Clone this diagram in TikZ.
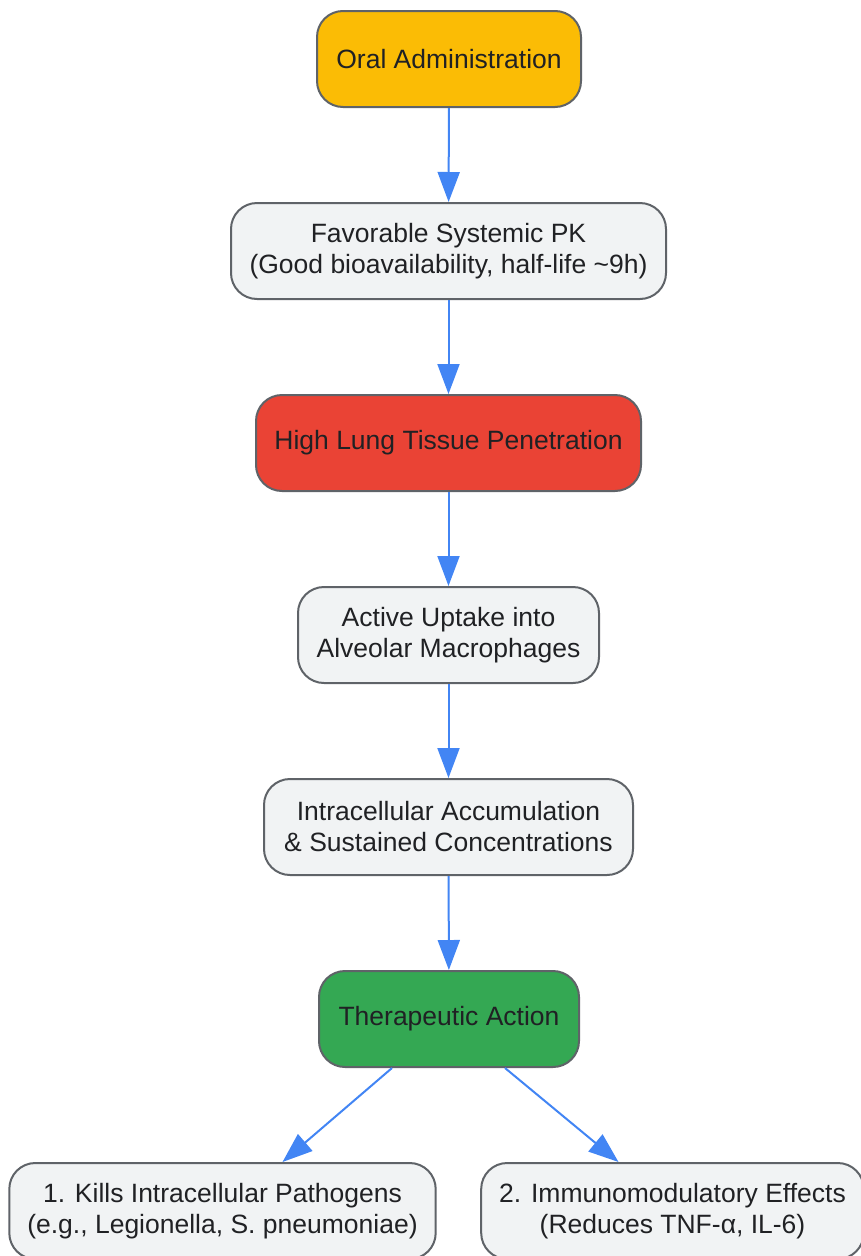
\documentclass[tikz,border=0pt]{standalone}
\usepackage{fontspec}
\setmainfont{Liberation Sans}
\usepackage{xcolor}
\usetikzlibrary{arrows.meta}
\definecolor{boxgray}{HTML}{F1F3F4}
\definecolor{boxline}{HTML}{5F6368}
\definecolor{oralyellow}{HTML}{FBBC05}
\definecolor{lungred}{HTML}{EA4335}
\definecolor{actgreen}{HTML}{34A853}
\definecolor{flowblue}{HTML}{4285F4}
\definecolor{inktext}{HTML}{202124}

\begin{document}
\begin{tikzpicture}
  [x=1pt,y=-1pt,
   every node/.style={rectangle,rounded corners=26pt,draw=boxline,line width=2pt,
     fill=boxgray,text=inktext,align=center,minimum height=96pt,inner xsep=18pt,
     font=\fontsize{26.5}{31}\selectfont},
   flow/.style={draw=flowblue,line width=2pt,-{Triangle[length=30pt,width=22pt]}}]
  \useasboundingbox (0,0) rectangle (860,1256);
  \node[fill=oralyellow,minimum width=264pt] (oral) at (449,59) {Oral Administration};
  \node[minimum width=435pt] (pk) at (448.5,251) {Favorable Systemic PK\\(Good bioavailability, half-life \textasciitilde9h)};
  \node[fill=lungred,minimum width=385pt] (lung) at (448.5,443) {High Lung Tissue Penetration};
  \node[minimum width=301pt] (uptake) at (448.5,635) {Active Uptake into\\Alveolar Macrophages};
  \node[minimum width=369pt] (accum) at (448.5,827) {Intracellular Accumulation\\\& Sustained Concentrations};
  \node[fill=actgreen,minimum width=260pt] (action) at (449,1019) {Therapeutic Action};
  \node[minimum width=425pt] (kills) at (222.5,1211) {1. Kills Intracellular Pathogens\\(e.g., Legionella, S. pneumoniae)};
  \node[minimum width=379pt] (immuno) at (672.5,1211) {2. Immunomodulatory Effects\\(Reduces TNF-α, IL-6)};
\foreach \from/\to in {oral/pk,pk/lung,lung/uptake,uptake/accum,accum/action}
    \draw[flow] (\from) -- (\to);
  \draw[flow] ([xshift=-57pt]action.south) -- ([xshift=60pt]kills.north);
  \draw[flow] ([xshift=56pt]action.south) -- ([xshift=-54pt]immuno.north);

\end{tikzpicture}
\end{document}
